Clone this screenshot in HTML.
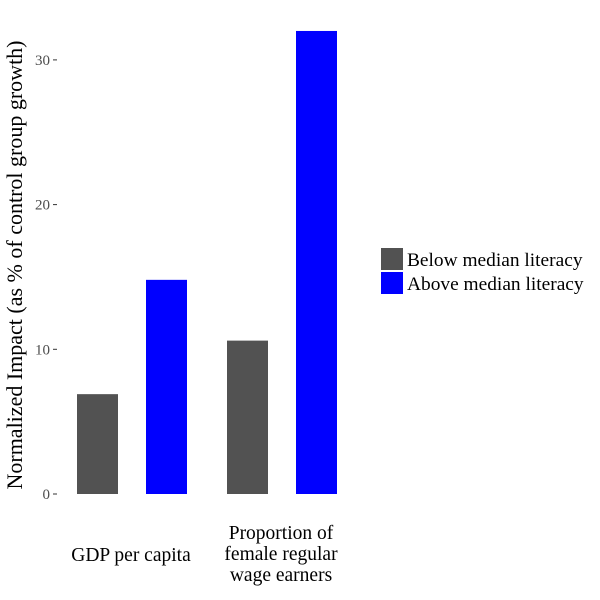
<!DOCTYPE html>
<html><head><meta charset="utf-8"><style>
body{margin:0;background:#fff;}
svg{display:block;font-family:"Liberation Serif",serif;}
</style></head><body>
<svg id="chart" width="600" height="600">
<g id="axis"></g><g id="bars"></g>
<text transform="translate(22,265) rotate(-90)" text-anchor="middle" font-size="22" fill="#000">Normalized Impact (as % of control group growth)</text>
<text x="131" y="561" text-anchor="middle" font-size="19.5">GDP per capita</text>
<text text-anchor="middle" font-size="19.5"><tspan x="281" y="539">Proportion of</tspan><tspan x="281" y="560">female regular</tspan><tspan x="281" y="581">wage earners</tspan></text>
<g>
<rect x="381" y="248" width="22" height="22" fill="#525252"/>
<text x="407" y="266" font-size="19.4">Below median literacy</text>
<rect x="381" y="272" width="22" height="22" fill="#0000ff"/>
<text x="407" y="290" font-size="19.4">Above median literacy</text>
</g>
</svg>
<script>
const categories=["GDP per capita","Proportion of female regular wage earners"];
const belowValues=[6.9,10.6];
const aboveValues=[14.8,32.0];
const tickValues=[0,10,20,30];
const ns="http://www.w3.org/2000/svg";
const y0=494, pxPer=14.47;
function y(v){return y0-v*pxPer;}
const axis=document.getElementById('axis');
tickValues.forEach(t=>{
  const l=document.createElementNS(ns,'line');
  
  
  l.setAttribute('x1',53);l.setAttribute('x2',57);l.setAttribute('y1',y(t));l.setAttribute('y2',y(t));
  l.setAttribute('stroke','#333');axis.appendChild(l);
  const tx=document.createElementNS(ns,'text');
  
  
  tx.setAttribute('x',50);tx.setAttribute('y',y(t)+5);tx.setAttribute('text-anchor','end');
  tx.setAttribute('font-size','15');tx.setAttribute('fill','#4d4d4d');tx.textContent=t;axis.appendChild(tx);
});
const bars=document.getElementById('bars');
const groupStart=[77,227], bw=41, gap=69;
categories.forEach((c,i)=>{
  [[belowValues[i],'#525252',0,'below'],[aboveValues[i],'#0000ff',1,'above']].forEach(([v,col,k,nm])=>{
    const r=document.createElementNS(ns,'rect');
    
    
    r.setAttribute('x',groupStart[i]+k*gap);r.setAttribute('width',bw);
    r.setAttribute('y',y(v));r.setAttribute('height',y0-y(v));r.setAttribute('fill',col);
    bars.appendChild(r);
  });
});
</script>
</body></html>
